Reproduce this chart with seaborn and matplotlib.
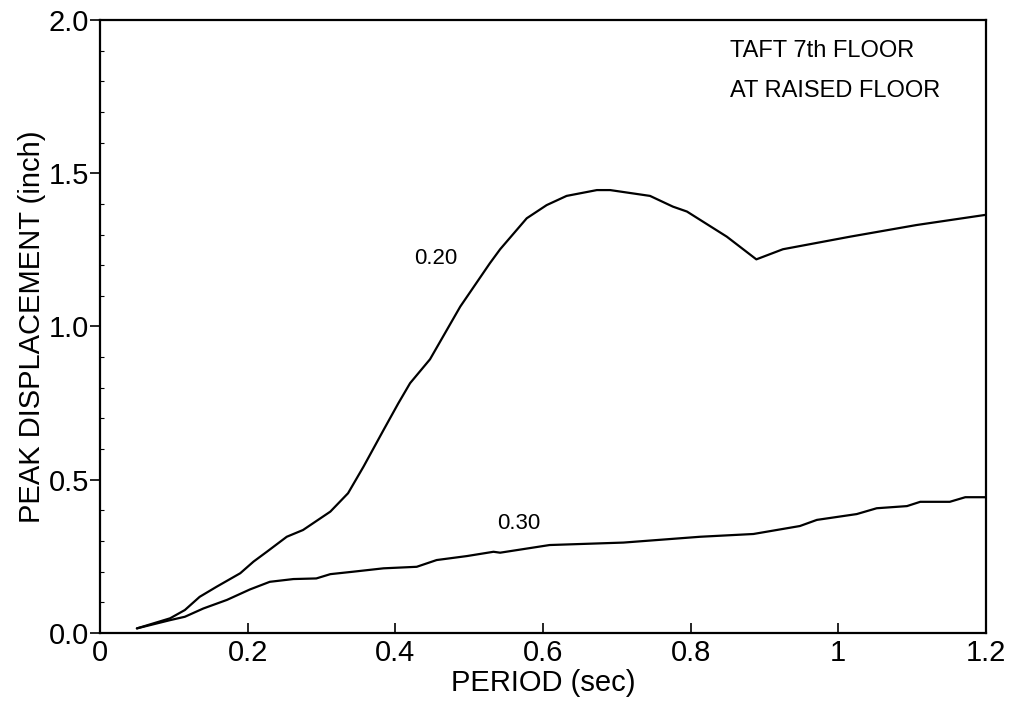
import numpy as np
import pandas as pd
import matplotlib
matplotlib.use("Agg")
import matplotlib.pyplot as plt
import seaborn as sns

# damping 0.20 curve (period sec, peak displacement inch)
period_020 = [0.050, 0.095, 0.115, 0.135, 0.158, 0.190, 0.208, 0.226, 0.253, 0.275,
              0.312, 0.336, 0.357, 0.384, 0.404, 0.420, 0.447, 0.488, 0.528, 0.542,
              0.578, 0.605, 0.632, 0.673, 0.691, 0.745, 0.776, 0.795, 0.849, 0.889,
              0.925, 1.016, 1.106, 1.199]
disp_020 = [0.015, 0.048, 0.075, 0.118, 0.151, 0.195, 0.233, 0.265, 0.314, 0.336,
            0.396, 0.456, 0.543, 0.662, 0.749, 0.815, 0.893, 1.065, 1.206, 1.252,
            1.353, 1.396, 1.426, 1.445, 1.445, 1.426, 1.391, 1.375, 1.293, 1.219,
            1.252, 1.293, 1.331, 1.364]

# damping 0.30 curve
period_030 = [0.050, 0.095, 0.115, 0.140, 0.172, 0.203, 0.230, 0.262, 0.293, 0.312,
              0.343, 0.384, 0.429, 0.456, 0.497, 0.533, 0.542, 0.609, 0.709, 0.813,
              0.885, 0.948, 0.971, 1.025, 1.052, 1.093, 1.111, 1.151, 1.172, 1.199]
disp_030 = [0.015, 0.042, 0.053, 0.080, 0.108, 0.142, 0.167, 0.176, 0.178, 0.192,
            0.200, 0.211, 0.216, 0.238, 0.251, 0.265, 0.262, 0.287, 0.295, 0.314,
            0.323, 0.349, 0.369, 0.388, 0.407, 0.414, 0.428, 0.428, 0.443, 0.443]

x_ticks = [0, 0.2, 0.4, 0.6, 0.8, 1.0, 1.2]
x_ticklabels = ["0", "0.2", "0.4", "0.6", "0.8", "1", "1.2"]
y_ticks = [0.0, 0.5, 1.0, 1.5, 2.0]
y_ticklabels = ["0.0", "0.5", "1.0", "1.5", "2.0"]

sns.set_style("ticks")
plt.rcParams['font.family'] = ['Liberation Sans', 'DejaVu Sans']
plt.rcParams['text.color'] = 'black'
plt.rcParams['axes.labelcolor'] = 'black'
plt.rcParams['xtick.color'] = 'black'
plt.rcParams['ytick.color'] = 'black'

fig = plt.figure(figsize=(10.13, 7.13), dpi=100)
ax = fig.add_axes([0.0987, 0.1122, 0.8746, 0.8598])

sns.lineplot(x=period_020, y=disp_020, color='black', linewidth=1.6, sort=False,
             estimator=None, ax=ax)
sns.lineplot(x=period_030, y=disp_030, color='black', linewidth=1.6, sort=False,
             estimator=None, ax=ax)

ax.set_xlim(0, 1.2)
ax.set_ylim(0, 2.0)
ax.set_xticks(x_ticks)
ax.set_xticklabels(x_ticklabels, fontsize=21)
ax.set_yticks(y_ticks)
ax.set_yticklabels(y_ticklabels, fontsize=21)
ax.set_yticks(np.arange(0.1, 2.0, 0.1), minor=True)
ax.tick_params(axis='x', direction='in', length=7, width=1.2, pad=4, colors='black')
ax.tick_params(axis='y', direction='out', length=7, width=1.2, pad=1, colors='black')
ax.tick_params(axis='y', which='minor', direction='in', length=3, width=0.8)
for s in ax.spines.values():
    s.set_linewidth(1.6)
    s.set_color('black')

ax.set_xlabel("PERIOD (sec)", fontsize=21, labelpad=2, color='black')
ax.set_ylabel("PEAK DISPLACEMENT (inch)", fontsize=21, labelpad=2, color='black')

ax.text(0.425, 1.205, "0.20", fontsize=16, color='black')
ax.text(0.538, 0.34, "0.30", fontsize=16, color='black')
ax.text(0.853, 1.88, "TAFT 7th FLOOR", fontsize=17, color='black')
ax.text(0.853, 1.75, "AT RAISED FLOOR", fontsize=17, color='black')

fig.savefig("out.png", dpi=100)
